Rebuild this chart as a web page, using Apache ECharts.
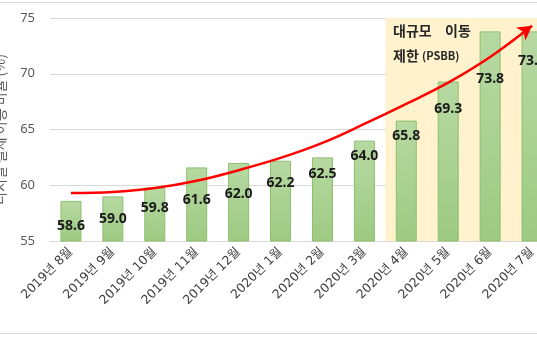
<!DOCTYPE html>
<html>
<head>
<meta charset="utf-8">
<script src="https://cdn.jsdelivr.net/npm/echarts@6/dist/echarts.min.js"></script>
<style>
  html, body { margin: 0; padding: 0; background: #ffffff; }
  #chart { width: 537px; height: 337px; }
</style>
</head>
<body>
<div id="chart"></div>
<script>
// Monthly categories, Aug 2019 – Jul 2020
const months = ['2019년 8월', '2019년 9월', '2019년 10월', '2019년 11월', '2019년 12월',
  '2020년 1월', '2020년 2월', '2020년 3월', '2020년 4월', '2020년 5월', '2020년 6월', '2020년 7월'];
// Index value per month (%)
const values = [58.6, 59.0, 59.8, 61.6, 62.0, 62.2, 62.5, 64.0, 65.8, 69.3, 73.8, 73.8];
// Upward trend arrow drawn through the months
const trend = [59.3, 59.4, 59.75, 60.4, 61.35, 62.45, 63.8, 65.5, 67.3, 69.2, 71.5, 74.3];
// Months under the large-scale restriction (PSBB), shaded
const psbbMonths = ['2020년 4월', '2020년 5월', '2020년 6월', '2020년 7월'];
// Y axis ticks
const yTicks = [55, 60, 65, 70, 75];

// How far each value label sits below its bar top (px), keeping it clear of the arrow
const labelDrop = [18, 16, 14, 26, 24, 15, 10, 8, 8, 20, 41, 23];

const yMin = yTicks[0], yMax = yTicks[yTicks.length - 1];
const psbbSet = new Set(psbbMonths);

const chart = echarts.init(document.getElementById('chart'), null, { renderer: 'canvas' });

const kr = '"Noto Sans CJK KR", "Noto Sans", sans-serif';
const tickFont = '"DejaVu Sans", "Noto Sans CJK KR", sans-serif';

chart.setOption({
  animation: false,
  backgroundColor: '#ffffff',
  grid: { left: 50, top: 18, bottom: 96, width: 503, containLabel: false, outerBoundsMode: 'none' },
  xAxis: [
    {
      type: 'category',
      data: months,
      axisLine: { show: true, lineStyle: { color: '#d9d9d9', width: 1 } },
      axisTick: { show: false },
      axisLabel: {
        rotate: 45, interval: 0, margin: 9,
        color: '#404040', fontSize: 12.5, fontFamily: tickFont
      }
    },
    {
      type: 'category',
      data: months,
      show: false
    }
  ],
  yAxis: {
    type: 'value',
    min: yMin, max: yMax, interval: 5,
    name: '디지털 결제 이용 비율 (%)',
    nameLocation: 'middle',
    nameGap: 43,
    nameTextStyle: { color: '#595959', fontSize: 14, fontFamily: kr },
    axisLine: { show: false },
    axisTick: { show: false },
    axisLabel: { color: '#595959', fontSize: 13, margin: 15, fontFamily: '"Noto Sans", sans-serif' },
    splitLine: { lineStyle: { color: '#d9d9d9', width: 1 } }
  },
  graphic: [
    {
      type: 'rect', silent: true, z: -10,
      shape: { x: -5, y: 2.5, width: 550, height: 331 },
      style: { fill: 'none', stroke: '#d9d9d9', lineWidth: 1 }
    },
    {
      type: 'text', left: 393, top: 24, z: 20,
      style: { text: '대규모', fill: '#262626', font: 'bold 14px ' + kr }
    },
    {
      type: 'text', left: 445, top: 24, z: 20,
      style: { text: '이동', fill: '#262626', font: 'bold 14px ' + kr }
    },
    {
      type: 'text', left: 393, top: 49, z: 20,
      style: {
        text: '{a|제한} {b|(PSBB)}',
        rich: {
          a: { fill: '#262626', font: 'bold 14px ' + kr },
          b: { fill: '#262626', font: 'bold 11px ' + kr }
        }
      }
    }
  ],
  series: [
    {
      // PSBB shading: full-width band for the restriction months
      type: 'bar',
      xAxisIndex: 1,
      barWidth: '100%',
      silent: true,
      z: 0,
      itemStyle: { color: '#fff2cc' },
      data: months.map(m => psbbSet.has(m) ? yMax : null)
    },
    {
      type: 'bar',
      xAxisIndex: 0,
      barWidth: 21,
      z: 2,
      itemStyle: {
        color: new echarts.graphic.LinearGradient(0, 0, 0, 1, [
          { offset: 0, color: '#b7d9a2' },
          { offset: 1, color: '#9dca82' }
        ]),
        borderColor: '#8dbf6d',
        borderWidth: 1
      },
      label: {
        show: true,
        position: 'insideTop',
        color: '#1a1a1a',
        fontSize: 14,
        fontWeight: 'bold',
        fontFamily: '"Noto Sans", sans-serif',
        formatter: p => p.value.toFixed(1)
      },
      data: values.map((v, i) => ({ value: v, label: { distance: labelDrop[i] } }))
    },
    {
      type: 'line',
      xAxisIndex: 0,
      smooth: 0.4,
      z: 5,
      lineStyle: { color: '#ff0000', width: 2.5 },
      itemStyle: { color: '#ff0000' },
      showSymbol: true,
      data: trend.map((v, i) => i === trend.length - 1
        ? { value: v, symbol: 'arrow', symbolSize: [12, 14], symbolRotate: -54 }
        : { value: v, symbol: 'none' })
    }
  ]
});
</script>
</body>
</html>
